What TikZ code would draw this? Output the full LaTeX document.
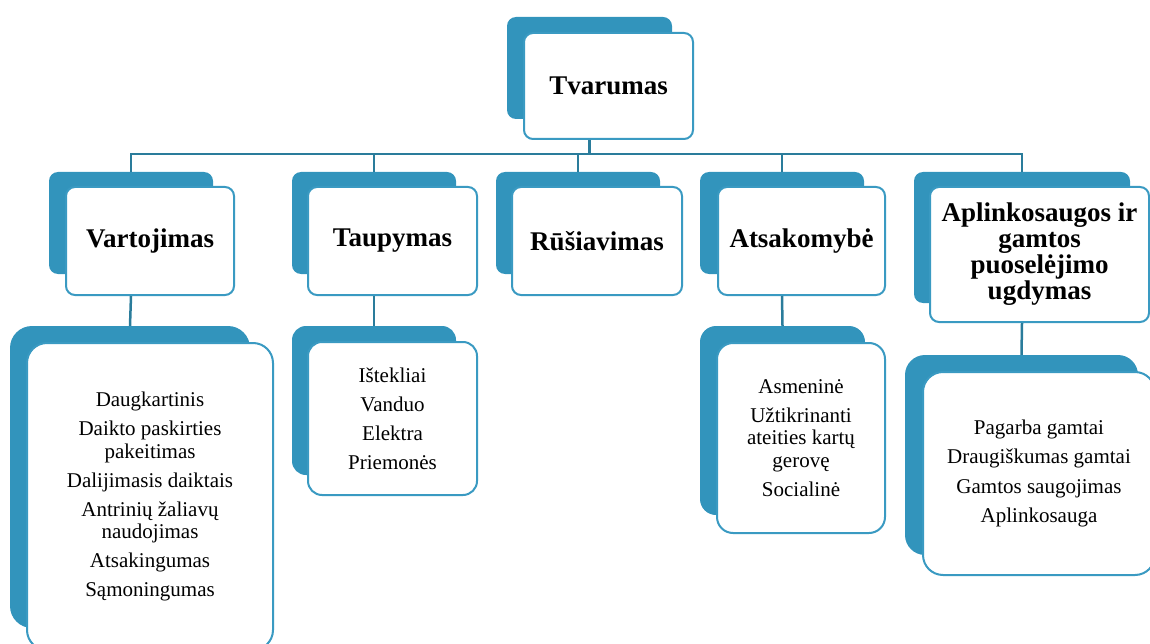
\documentclass[tikz,border=0pt]{standalone}
\usepackage{fontspec}
\setmainfont{Liberation Serif}
\definecolor{boxblue}{RGB}{50,148,188}
\definecolor{edgeblue}{RGB}{58,154,194}
\definecolor{linkblue}{RGB}{42,124,155}
\newcommand{\boxheadfont}{\fontsize{27}{26}\selectfont\bfseries}
\newcommand{\boxlistfont}{\fontsize{21}{22.5}\selectfont}
\tikzset{
  backbox/.style={fill=boxblue, rounded corners=#1, inner sep=0pt},
  backbox/.default=9pt,
  frontbox/.style={draw=edgeblue, line width=2pt, fill=white, rounded corners=#1,
    align=center, inner sep=2pt},
  frontbox/.default=9pt,
  link/.style={draw=linkblue, line width=2.5pt}
}
\begin{document}
\begin{tikzpicture}[x=1pt,y=-1pt]
  \useasboundingbox (0,0) rectangle (1150,644);
  \coordinate (bus) at (0,154);
  % top
  \node[backbox, minimum width=165pt, minimum height=102pt] (tvarb) at (589.5,68) {};
  \node[frontbox, minimum width=169pt, minimum height=106pt, font=\boxheadfont] (tvar) at (608.5,86) {Tvarumas};
  % second row
  \node[backbox, minimum width=164pt, minimum height=102pt] (vartb) at (131,223) {};
  \node[frontbox, minimum width=168pt, minimum height=108pt, font=\boxheadfont] (vart) at (150,241) {Vartojimas};
  \node[backbox, minimum width=164pt, minimum height=102pt] (taupb) at (374,223) {};
  \node[frontbox, minimum width=169pt, minimum height=108pt, font=\boxheadfont] (taup) at (392.5,241) {Taupymas};
  \node[backbox, minimum width=164pt, minimum height=102pt] (rusb) at (578,223) {};
  \node[frontbox, minimum width=170pt, minimum height=108pt, font=\boxheadfont] (rus) at (597,241) {Rūšiavimas};
  \node[backbox, minimum width=164pt, minimum height=102pt] (atsb) at (782,223) {};
  \node[frontbox, minimum width=167pt, minimum height=108pt, font=\boxheadfont] (ats) at (801.5,241) {Atsakomybė};
  \node[backbox, minimum width=216pt, minimum height=131pt] (aplb) at (1022,237.5) {};
  \node[frontbox, minimum width=219pt, minimum height=135pt, font=\boxheadfont] (apl) at (1039.5,254.5)
    {Aplinkosaugos ir\\gamtos\\puoselėjimo\\ugdymas};
  % lists
  \node[backbox=22pt, minimum width=240pt, minimum height=302pt] (vlistb) at (130,477) {};
  \node[frontbox=20pt, minimum width=246pt, minimum height=307pt, font=\boxlistfont] (vlist) at (150,496.5)
    {Daugkartinis\\[6.5pt] Daikto paskirties\\pakeitimas\\[6.5pt] Dalijimasis daiktais\\[6.5pt]
     Antrinių žaliavų\\naudojimas\\[6.5pt] Atsakingumas\\[6.5pt] Sąmoningumas};
  \node[backbox=14pt, minimum width=164pt, minimum height=149pt] (tlistb) at (374,400.5) {};
  \node[frontbox=14pt, minimum width=169pt, minimum height=153pt, font=\boxlistfont] (tlist) at (392.5,418.5)
    {Ištekliai\\[6.5pt] Vanduo\\[6.5pt] Elektra\\[6.5pt] Priemonės};
  \node[backbox=16pt, minimum width=165pt, minimum height=189pt] (alistb) at (782.5,420.5) {};
  \node[frontbox=16pt, minimum width=168pt, minimum height=190pt, font=\boxlistfont] (alist) at (801,438)
    {Asmeninė\\[6.5pt] Užtikrinanti\\ateities kartų\\gerovę\\[6.5pt] Socialinė};
  \node[backbox=20pt, minimum width=233pt, minimum height=200pt] (plistb) at (1021.5,455) {};
  \node[frontbox=20pt, minimum width=232pt, minimum height=203pt, font=\boxlistfont] (plist) at (1039,473.5)
    {Pagarba gamtai\\[7pt] Draugiškumas gamtai\\[7pt] Gamtos saugojimas\\[7pt] Aplinkosauga};
  % connectors
  \draw[link] (tvarb.center |- tvar.south) -- (tvarb.center |- bus);
  \draw[link] (vartb.north) -- (vartb.center |- bus) -- (aplb.center |- bus) -- (aplb.north);
  \foreach \n in {taupb,rusb,atsb}
    \draw[link] (\n.center |- bus) -- (\n.north);
  \draw[link] (vartb.center |- vart.south) -- (vlistb.north);
  \draw[link] (taupb.center |- taup.south) -- (tlistb.north);
  \draw[link] (atsb.center |- ats.south) -- (alistb.north);
  \draw[link] (aplb.center |- apl.south) -- (plistb.north);
\end{tikzpicture}
\end{document}
